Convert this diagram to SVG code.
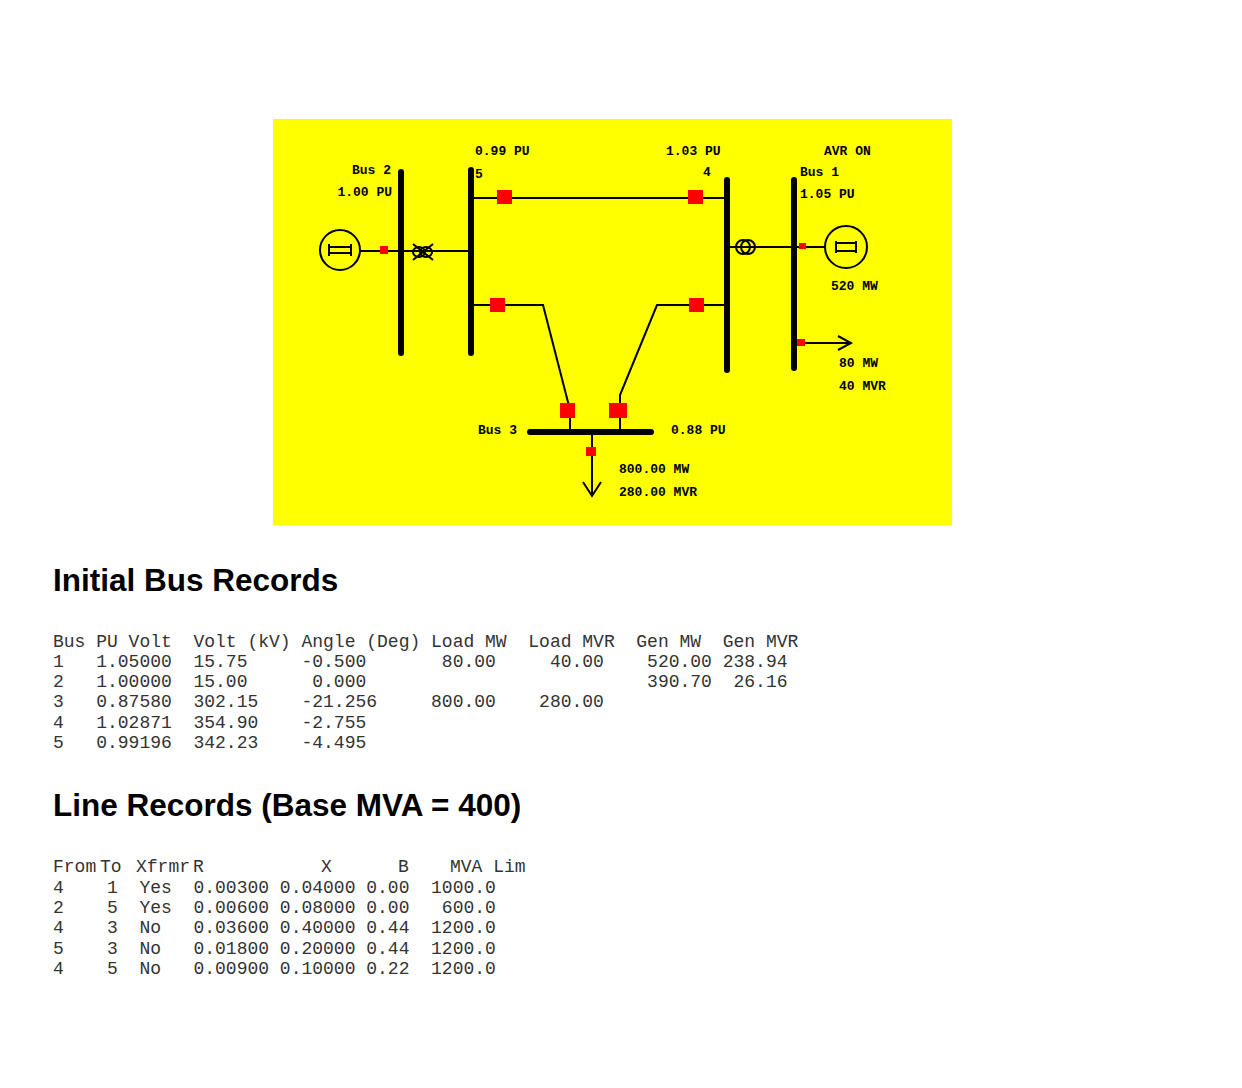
<svg xmlns="http://www.w3.org/2000/svg" width="1242" height="1088" viewBox="0 0 1242 1088">
<style>
.bus{stroke:#000;stroke-width:6;stroke-linecap:round}
.ln{stroke:#000;stroke-width:2;fill:none}
.rs{fill:#f00}
.lb{font-family:"Liberation Mono",monospace;font-weight:bold;font-size:13px;fill:#000}
.tb{font-family:"Liberation Mono",monospace;font-size:18px;fill:#333;white-space:pre}
.h{font-family:"Liberation Sans",Arial,sans-serif;font-weight:bold;font-size:31.5px;fill:#000}
</style>
<rect width="1242" height="1088" fill="#fff"/>
<rect x="273" y="119" width="679" height="406" fill="#ffff00"/>
<g id="connectors">
<line class="ln" x1="360" y1="251" x2="471" y2="251"/>
<line class="ln" x1="471" y1="198" x2="727" y2="198"/>
<polyline class="ln" points="471,305 543,305 570,410 570,432"/>
<polyline class="ln" points="727,305 657,305 620,395 620,432"/>
<line class="ln" x1="592" y1="432" x2="592" y2="494"/>
<polyline class="ln" points="583,482 592,496 601,482"/>
<line class="ln" x1="727" y1="247" x2="825" y2="247"/>
<line class="ln" x1="794" y1="343" x2="850" y2="343"/>
<polyline class="ln" points="838,336 851,343 838,350"/>
</g>
<g id="bus2"><line class="bus" x1="401" y1="172" x2="401" y2="353"/><text class="lb" x="391" y="174" text-anchor="end">Bus 2</text><text class="lb" x="392" y="196" text-anchor="end">1.00 PU</text></g>
<g id="bus5"><line class="bus" x1="471" y1="170" x2="471" y2="353"/><text class="lb" x="475" y="155">0.99 PU</text><text class="lb" x="475" y="178">5</text></g>
<g id="bus4"><line class="bus" x1="727" y1="180" x2="727" y2="370"/><text class="lb" x="666" y="155">1.03 PU</text><text class="lb" x="703" y="176">4</text></g>
<g id="bus1"><line class="bus" x1="794" y1="180" x2="794" y2="368"/><text class="lb" x="824" y="155">AVR ON</text><text class="lb" x="800" y="176">Bus 1</text><text class="lb" x="800" y="198">1.05 PU</text><text class="lb" x="831" y="290">520 MW</text><text class="lb" x="839" y="367">80 MW</text><text class="lb" x="839" y="390">40 MVR</text></g>
<g id="bus3"><line class="bus" x1="530" y1="432" x2="651" y2="432"/><text class="lb" x="478" y="434">Bus 3</text><text class="lb" x="671" y="434">0.88 PU</text><text class="lb" x="619" y="473">800.00 MW</text><text class="lb" x="619" y="496">280.00 MVR</text></g>
<g id="gen2"><circle cx="340" cy="250" r="20" fill="none" stroke="#000" stroke-width="2"/><path d="M330,247h20M330,253h20M329,244v12M351,244v12" class="ln"/></g>
<g id="gen1"><circle cx="846" cy="247" r="21" fill="none" stroke="#000" stroke-width="2"/><path d="M837,243h18M837,251h18M836,241v12M856,241v12" class="ln"/></g>
<g id="xfmr25"><ellipse cx="419" cy="252" rx="6" ry="5" class="ln"/><ellipse cx="426" cy="252" rx="6" ry="5" class="ln"/><path d="M413,244l20,16M413,260l20,-16" class="ln" stroke-width="1"/></g>
<g id="xfmr41"><circle cx="743" cy="247" r="7" class="ln"/><circle cx="748" cy="247" r="7" class="ln"/></g>
<g id="breakers">
<rect class="rs" x="380" y="246" width="8" height="8"/>
<rect class="rs" x="497" y="190" width="15" height="14"/>
<rect class="rs" x="688" y="190" width="15" height="14"/>
<rect class="rs" x="490" y="298" width="15" height="14"/>
<rect class="rs" x="689" y="298" width="15" height="14"/>
<rect class="rs" x="560" y="403" width="15" height="15"/>
<rect class="rs" x="609" y="403" width="18" height="15"/>
<rect class="rs" x="586" y="447" width="10" height="9"/>
<rect class="rs" x="799" y="243" width="7" height="6"/>
<rect class="rs" x="797" y="339" width="8" height="7"/>
</g>
<text class="h" x="53" y="591">Initial Bus Records</text>
<g class="tb">
<text xml:space="preserve" x="53" y="647">Bus PU Volt  Volt (kV) Angle (Deg) Load MW  Load MVR  Gen MW  Gen MVR</text>
<text xml:space="preserve" x="53" y="667">1   1.05000  15.75     -0.500       80.00     40.00    520.00 238.94</text>
<text xml:space="preserve" x="53" y="687">2   1.00000  15.00      0.000                          390.70  26.16</text>
<text xml:space="preserve" x="53" y="707">3   0.87580  302.15    -21.256     800.00    280.00</text>
<text xml:space="preserve" x="53" y="728">4   1.02871  354.90    -2.755</text>
<text xml:space="preserve" x="53" y="748">5   0.99196  342.23    -4.495</text>
</g>
<text class="h" x="53" y="816">Line Records (Base MVA = 400)</text>
<g class="tb">
<text y="872"><tspan x="53">From</tspan><tspan x="100">To</tspan><tspan x="136">Xfrmr</tspan><tspan x="193">R</tspan><tspan x="321">X</tspan><tspan x="398">B</tspan><tspan x="450">MVA Lim</tspan></text>
<text xml:space="preserve" x="53" y="893">4    1  Yes  0.00300 0.04000 0.00  1000.0</text>
<text xml:space="preserve" x="53" y="913">2    5  Yes  0.00600 0.08000 0.00   600.0</text>
<text xml:space="preserve" x="53" y="933">4    3  No   0.03600 0.40000 0.44  1200.0</text>
<text xml:space="preserve" x="53" y="954">5    3  No   0.01800 0.20000 0.44  1200.0</text>
<text xml:space="preserve" x="53" y="974">4    5  No   0.00900 0.10000 0.22  1200.0</text>
</g>
</svg>
